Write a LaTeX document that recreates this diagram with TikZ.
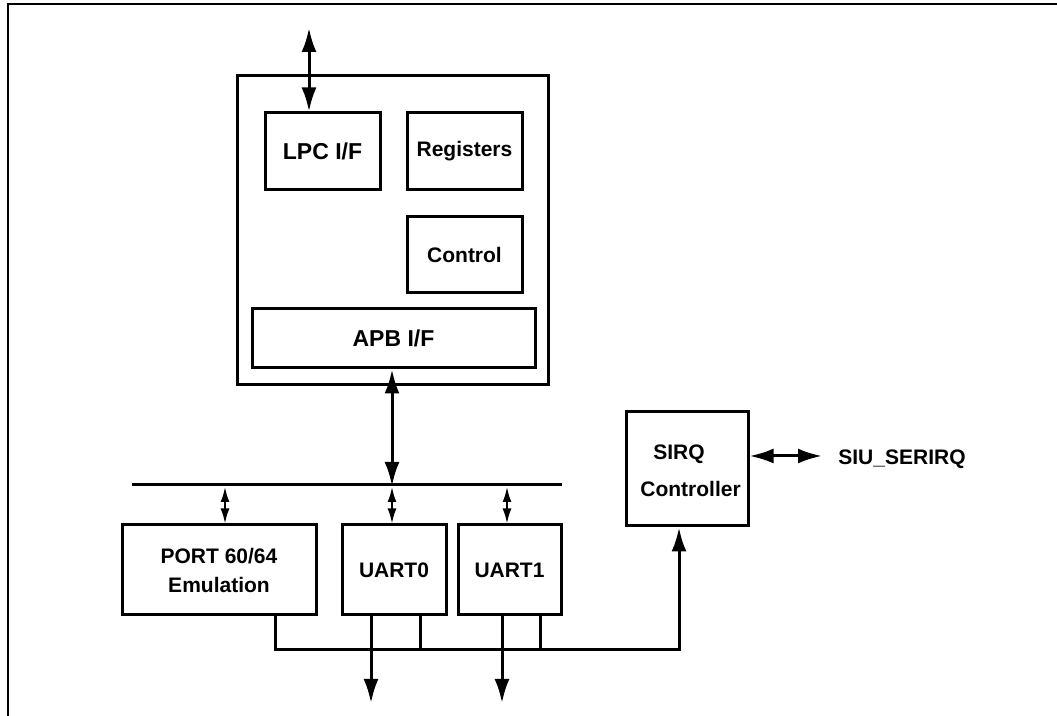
\documentclass[tikz,border=0pt]{standalone}
\usepackage{fontspec}
\setmainfont{Liberation Sans}
\usetikzlibrary{arrows.meta}
\begin{document}
\begin{tikzpicture}[x=0.5pt, y=-0.5pt,
    bloque/.style={draw, line width=1.5pt, inner sep=0pt, align=center,
        font=\fontsize{10.5}{14.5}\selectfont\bfseries},
    grande/.style={bloque, font=\fontsize{11.5}{14}\selectfont\bfseries},
    texto/.style={inner sep=0pt, font=\fontsize{10.5}{12}\selectfont\bfseries},
    bus/.style={line width=1.5pt},
    flecha/.style={line width=1.5pt, -{Latex[length=12pt,width=7.5pt]}},
    dflecha/.style={line width=1.5pt, {Latex[length=12pt,width=7.5pt]}-{Latex[length=12pt,width=7.5pt]}},
    chica/.style={line width=1pt, {Latex[length=7.5pt,width=4.5pt]}-{Latex[length=7.5pt,width=4.5pt]}}]
    \useasboundingbox (0,0) rectangle (1057,716);
    % Marco
    \draw[line width=1pt] (1057,4) -- (8,4) -- (8,716);

    % Bloque LPC
    \node[bloque, minimum width=155.5pt, minimum height=154.5pt] (lpcbloque) at (392.5,230.5) {};
    \node[grande, minimum width=57.5pt, minimum height=38.5pt] (lpc) at (322.5,151.5) {LPC I/F};
    \node[bloque, minimum width=57.5pt, minimum height=38.5pt] (reg) at (464.5,151.5) {Registers};
    \node[bloque, minimum width=57.5pt, minimum height=38pt] (ctrl) at (464.5,255) {Control};
    \node[grande, minimum width=141.5pt, minimum height=29.5pt] (apb) at (393.5,338.5) {APB I/F};
    \coordinate (lpcext) at (309,28);
    \draw[dflecha] (lpcext) -- (lpcext |- lpc.north);

    % Bus APB
    \coordinate (busI) at (132,485);
    \coordinate (busD) at (562,485);
    \draw[bus] (busI) -- (busD);
    \coordinate (apbbus) at (392,486);
    \draw[dflecha] (apbbus |- apb.south) -- (apbbus);

    % Perifericos
    \node[bloque, minimum width=97pt, minimum height=45pt] (port) at (219,570) {PORT 60/64\\Emulation};
    \node[bloque, minimum width=52pt, minimum height=45pt] (uart0) at (394,570) {UART0};
    \node[bloque, minimum width=51.5pt, minimum height=45pt] (uart1) at (509.5,570) {UART1};
    \foreach \x/\b in {225/port, 392/uart0, 507/uart1} {
        \coordinate (tap\b) at (\x,487);
        \draw[chica] (tap\b) -- (tap\b |- \b.north);
    }

    % Controlador SIRQ
    \node[bloque, minimum width=61pt, minimum height=57pt] (sirq) at (687,469) {};
    \node[texto, anchor=base west] (sirqa) at (653,460) {SIRQ};
    \node[texto, anchor=base west] (sirqb) at (640,497) {Controller};
    \node[texto, anchor=base west] (siu) at (838,465) {SIU\_SERIRQ};
    \coordinate (siuext) at (822,456);
    \draw[dflecha] (sirq.east |- siuext) -- (siuext);

    % Lineas de interrupcion
    \coordinate (pb) at (275,650);
    \coordinate (ret) at (679,650);
    \draw[flecha] (pb |- port.south) -- (pb) -- (ret) -- (ret |- sirq.south);
    \coordinate (u0b) at (420,650);
    \coordinate (u1b) at (540,650);
    \draw[bus] (u0b |- uart0.south) -- (u0b);
    \draw[bus] (u1b |- uart1.south) -- (u1b);
    \coordinate (u0s) at (371,703);
    \coordinate (u1s) at (502,703);
    \draw[flecha] (u0s |- uart0.south) -- (u0s);
    \draw[flecha] (u1s |- uart1.south) -- (u1s);
\end{tikzpicture}
\end{document}
